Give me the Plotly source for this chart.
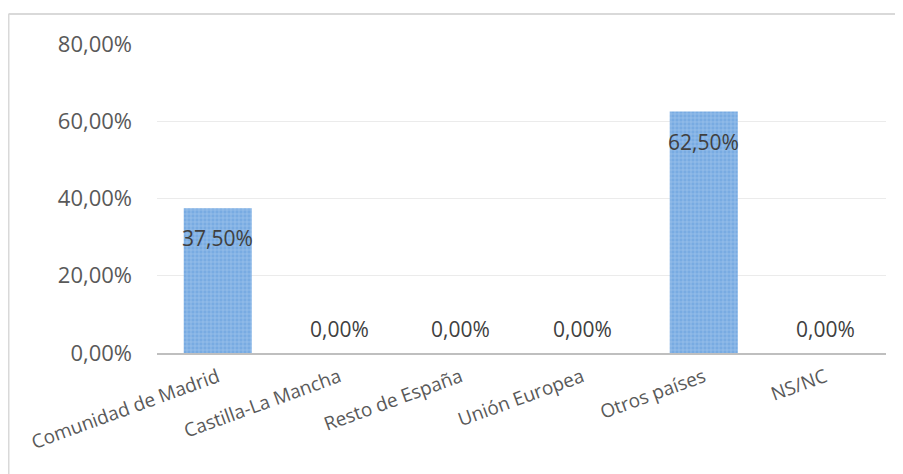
import plotly.graph_objects as go

categories = ["Comunidad de Madrid", "Castilla-La Mancha", "Resto de España",
              "Unión Europea", "Otros países", "NS/NC"]
values = [0.375, 0.0, 0.0, 0.0, 0.625, 0.0]
y_ticks = [0, 0.2, 0.4, 0.6, 0.8]

# page body has an 8px margin, so the figure is 8px smaller each way
W, H = 895, 466
ML, MR, MT, MB = 149, 17, 36, 121

fig = go.Figure()
fig.add_trace(go.Bar(
    x=categories, y=values,
    marker=dict(color="#80b2e6",
                line=dict(width=0),
                pattern=dict(shape="+", fgcolor="#c0d9f3", bgcolor="#78abe2",
                             size=4, solidity=0.35)),
    hoverinfo="skip",
))

for c, v in zip(categories, values):
    fig.add_annotation(
        x=c, y=v, text=f"{v*100:.2f}%".replace(".", ","),
        showarrow=False, yshift=(-30 if v > 0 else 24),
        font=dict(family="Open Sans", size=21, color="#404040"),
    )

pw = W - ML - MR
ph = H - MT - MB
left_x = (0.5 - ML) / pw
top_y = 1 + (MT - 6) / ph
fig.add_shape(type="line", xref="paper", yref="paper",
              x0=left_x, x1=1 + (MR + 10) / pw, y0=top_y, y1=top_y,
              line=dict(color="#d9d9d9", width=2))
fig.add_shape(type="line", xref="paper", yref="paper",
              x0=left_x, x1=left_x, y0=top_y, y1=-(MB + 10) / ph,
              line=dict(color="#d9d9d9", width=2))

fig.update_layout(
    width=W, height=H,
    margin=dict(l=ML, r=MR, t=MT, b=MB),
    paper_bgcolor="white", plot_bgcolor="white",
    separators=",.",
    bargap=0.44,
    showlegend=False,
    font=dict(family="Open Sans", color="#595959"),
    xaxis=dict(showgrid=False, showline=True, linecolor="#bfbfbf", linewidth=2,
               ticks="", tickangle=-20, ticklabelstandoff=4,
               tickfont=dict(family="Open Sans", size=19, color="#595959")),
    yaxis=dict(range=[0, 0.8], tickvals=y_ticks, tickformat=".2%",
               showgrid=True, gridcolor="#ebebeb", gridwidth=1,
               zeroline=False, showline=False, ticks="",
               ticklabelstandoff=24,
               tickfont=dict(family="Open Sans", size=22, color="#595959")),
)

fig.write_html("out.html")
